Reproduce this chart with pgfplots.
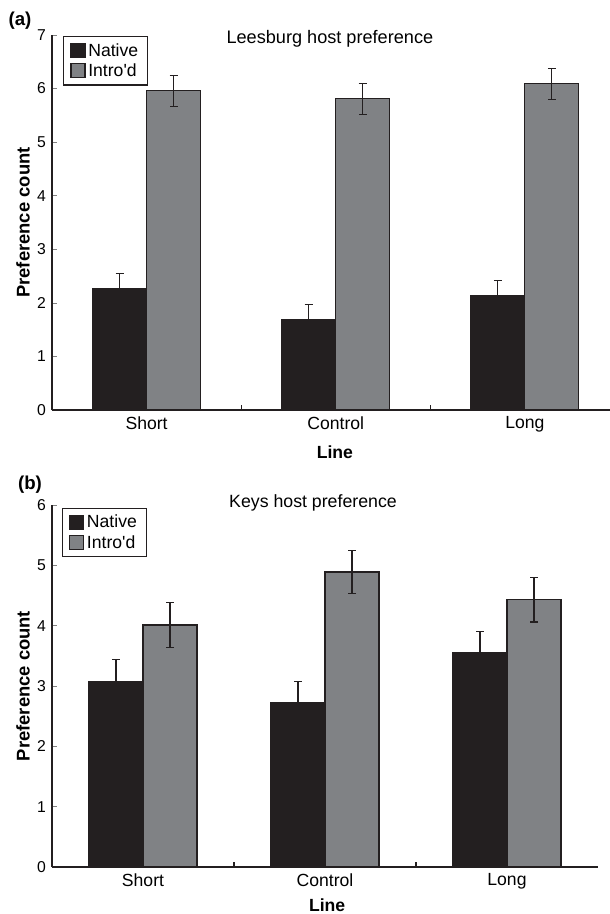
\documentclass[border=0pt]{standalone}
\usepackage{fontspec}
\setmainfont{Liberation Sans}
\usepackage{pgfplots}
\pgfplotsset{compat=1.18}

\definecolor{barblack}{RGB}{35,31,32}
\definecolor{bargray}{RGB}{128,130,133}

% shared look of both panels
\pgfplotsset{
  prefpanel/.style={
    scale only axis, clip=false,
    axis x line=bottom, axis y line=left,
    axis line style={-, line width=0.9pt, barblack},
    ybar=0pt, bar width=40.5pt,
    ymin=0,
    xtick={0,1,2}, xticklabels={Short,Control,Long},
    tick align=inside,
    major tick length=3.75pt,
    tick style={line width=0.5pt, gray},
    major x tick style={draw=none},
    extra x ticks={0.5,1.5}, extra x tick labels={},
    extra x tick style={major x tick style={draw=barblack, line width=0.8pt}},
    /pgf/number format/assume math mode=true,
    yticklabel style={font=\fontsize{11.8}{13}\selectfont, xshift=-1pt},
    xticklabel style={font=\fontsize{13.2}{16}\selectfont, yshift=-1.5pt},
    xlabel={\bfseries Line},
    ylabel={\bfseries Preference count},
    xlabel style={font=\fontsize{13.2}{16}\selectfont, anchor=center},
    ylabel style={font=\fontsize{13.8}{16}\selectfont, anchor=center},
    legend style={font=\fontsize{13.2}{15}\selectfont, draw=barblack, line width=0.9pt,
      inner xsep=5pt, inner ysep=3pt, row sep=0pt, legend cell align=left},
  },
  natbars/.style={fill=barblack, draw=barblack, line width=0.9pt,
    error bars/.cd, y dir=both, y explicit,
    error bar style={line width=0.9pt, barblack},
    error mark options={rotate=90, mark size=3pt, line width=0.9pt, barblack}},
  intbars/.style={fill=bargray, draw=barblack, line width=0.9pt,
    error bars/.cd, y dir=both, y explicit,
    error bar style={line width=0.9pt, barblack},
    error mark options={rotate=90, mark size=3pt, line width=0.9pt, barblack}},
  sqlegend/.style={legend image code/.code={\draw[##1, line width=0.9pt] (0pt,-5pt) rectangle (10.5pt,5.5pt);}},
}

\begin{document}
\begin{tikzpicture}
\path[use as bounding box] (0,0) rectangle (457.5pt,-685.5pt);

\node[font=\bfseries\fontsize{14}{16}\selectfont] at (15pt,-15.75pt) {(a)};
\node[font=\bfseries\fontsize{14}{16}\selectfont] at (22.5pt,-363.75pt) {(b)};

% (a) Leesburg
\begin{axis}[prefpanel,
  at={(39pt,-307.5pt)}, anchor=south west,
  width=418.5pt, height=281.25pt,
  xmin=-0.5, xmax=2.45, ymax=7, ytick={0,1,...,7},
  xlabel style={at={(axis description cs:0.507,0)}, yshift=-32pt},
  ylabel style={at={(axis description cs:-0.052,0.5)}},
  legend style={at={(rel axis cs:0.02,0.997)}, anchor=north west},
]
\addplot+[sqlegend, natbars] coordinates {(0,2.26) +- (0,0.29) (1,1.68) +- (0,0.29) (2,2.13) +- (0,0.29)};
\addplot+[sqlegend, intbars] coordinates {(0,5.96) +- (0,0.29) (1,5.81) +- (0,0.29) (2,6.09) +- (0,0.29)};
\legend{Native,Intro\textquotesingle d}
\node[font=\fontsize{13.6}{16}\selectfont] at (rel axis cs:0.498,0.99) {Leesburg host preference};
\end{axis}

% (b) Keys
\begin{axis}[prefpanel,
  at={(39pt,-650.25pt)}, anchor=south west,
  width=409.5pt, height=271.5pt,
  xmin=-0.5, xmax=2.5, ymax=6, ytick={0,1,...,6},
  xlabel style={at={(axis description cs:0.504,0)}, yshift=-29pt},
  ylabel style={at={(axis description cs:-0.053,0.5)}},
  legend style={at={(rel axis cs:0.018,0.992)}, anchor=north west},
]
\addplot+[sqlegend, natbars] coordinates {(0,3.08) +- (0,0.36) (1,2.73) +- (0,0.35) (2,3.55) +- (0,0.36)};
\addplot+[sqlegend, intbars] coordinates {(0,4.01) +- (0,0.37) (1,4.89) +- (0,0.36) (2,4.43) +- (0,0.37)};
\legend{Native,Intro\textquotesingle d}
\node[font=\fontsize{13.3}{16}\selectfont] at (rel axis cs:0.478,1.0055) {Keys host preference};
\end{axis}
\end{tikzpicture}
\end{document}
